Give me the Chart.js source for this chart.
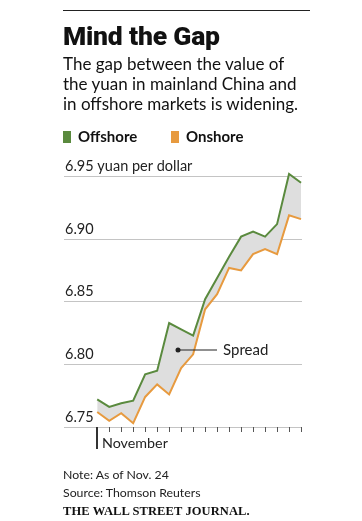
<!DOCTYPE html>
<html>
<head>
<meta charset="utf-8">
<script src="https://cdn.jsdelivr.net/npm/chart.js@4"></script>
<style>
  body { margin: 0; background: #fff; }
  #wrap { position: relative; width: 362px; height: 521px; overflow: hidden; font-family: Lato, sans-serif; color: #111; }
  #chart { position: absolute; left: 0; top: 0; }
  .rule { position: absolute; left: 63px; width: 247px; top: 10px; border-top: 1px solid #222; }
  .title { position: absolute; left: 63px; top: 20px; font-family: Roboto, sans-serif; font-weight: 900; font-size: 26.5px; letter-spacing: -0.2px; }
  .sub { position: absolute; left: 63px; top: 54px; font-size: 17px; line-height: 20px; }
  .leg { position: absolute; top: 127px; font-weight: bold; font-size: 15px; }
  .leg i { display: inline-block; width: 8px; height: 12px; vertical-align: -1px; margin-right: 7px; }
  .note { position: absolute; left: 63px; top: 466px; font-size: 12.3px; line-height: 18px; color: #222; }
  .wsj { position: absolute; left: 63px; top: 504px; font-family: "Liberation Serif", serif; font-weight: bold; font-size: 12.5px; letter-spacing: 0.1px; }
</style>
</head>
<body>
<div id="wrap">
  <canvas id="chart" width="362" height="521"></canvas>
  <div class="rule"></div>
  <div class="title">Mind the Gap</div>
  <div class="sub">The gap between the value of<br>the yuan in mainland China and<br>in offshore markets is widening.</div>
  <div class="leg" style="left:63px"><i style="background:#5a8a3e"></i>Offshore</div>
  <div class="leg" style="left:171px"><i style="background:#e79a3f"></i>Onshore</div>
  <div class="note">Note: As of Nov. 24<br>Source: Thomson Reuters</div>
  <div class="wsj">THE WALL STREET JOURNAL.</div>
</div>
<script>
// trading days, Nov 2016
var days = ["Nov 1","Nov 2","Nov 3","Nov 4","Nov 7","Nov 8","Nov 9","Nov 10","Nov 11",
            "Nov 14","Nov 15","Nov 16","Nov 17","Nov 18","Nov 21","Nov 22","Nov 23","Nov 24"];
var offshore = [6.772, 6.766, 6.769, 6.771, 6.792, 6.795, 6.833, 6.828, 6.823,
                6.852, 6.869, 6.886, 6.902, 6.906, 6.902, 6.912, 6.952, 6.945];
var onshore = [6.762, 6.755, 6.761, 6.753, 6.774, 6.784, 6.776, 6.797, 6.808,
               6.844, 6.856, 6.877, 6.875, 6.888, 6.892, 6.888, 6.919, 6.916];
var yTicks = [6.75, 6.80, 6.85, 6.90, 6.95];
var monthLabel = "November";
var spreadLabel = "Spread";

function toPoints(arr){
  var pts = [];
  for(var i = 0; i < arr.length; i++){
    pts.push({x: i, y: arr[i]});
  }
  return pts;
}

// x ticks, November marker and the Spread callout
var extras = {
  id: 'extras',
  afterDatasetsDraw: function(chart){
    var ctx = chart.ctx;
    var xs = chart.scales.x, ys = chart.scales.y;
    var base = ys.getPixelForValue(6.75);
    ctx.save();
    ctx.strokeStyle = '#555';
    ctx.lineWidth = 1;
    for(var i = 1; i < days.length; i++){
      var px = Math.round(xs.getPixelForValue(i)) + 0.5;
      ctx.beginPath();
      ctx.moveTo(px, base);
      ctx.lineTo(px, base + 5);
      ctx.stroke();
    }
    var x0 = Math.round(xs.getPixelForValue(0));
    ctx.strokeStyle = '#333';
    ctx.lineWidth = 2;
    ctx.beginPath();
    ctx.moveTo(x0, base);
    ctx.lineTo(x0, base + 22);
    ctx.stroke();
    ctx.fillStyle = '#222';
    ctx.font = '14.3px Lato';
    ctx.textBaseline = 'middle';
    ctx.textAlign = 'left';
    ctx.fillText(monthLabel, x0 + 5, base + 16);

    // spread callout
    var sx = xs.getPixelForValue(6.74), sy = ys.getPixelForValue(6.8115);
    ctx.beginPath();
    ctx.arc(sx, sy, 2.5, 0, Math.PI * 2);
    ctx.fill();
    ctx.lineWidth = 1.2;
    ctx.strokeStyle = '#222';
    ctx.beginPath();
    ctx.moveTo(sx, sy);
    ctx.lineTo(sx + 39, sy);
    ctx.stroke();
    ctx.font = '15px Lato';
    ctx.fillText(spreadLabel, sx + 45, sy);
    ctx.restore();
  }
};

Chart.defaults.font.family = 'Lato';
Chart.defaults.color = '#222';

var ctx = document.getElementById("chart").getContext('2d');
var chart = new Chart(ctx, {
  type: 'line',
  data: {
    datasets: [{
      label: 'Offshore',
      data: toPoints(offshore),
      borderColor: '#5a8a3e',
      backgroundColor: '#dedede',
      borderWidth: 2,
      pointRadius: 0,
      tension: 0,
      fill: '+1'
    }, {
      label: 'Onshore',
      data: toPoints(onshore),
      borderColor: '#e79a3f',
      borderWidth: 2,
      pointRadius: 0,
      tension: 0,
      fill: false
    }]
  },
  options: {
    responsive: false,
    animation: false,
    devicePixelRatio: 1,
    layout: {
      padding: { left: 62, right: 60, top: 164, bottom: 94 }
    },
    plugins: {
      legend: { display: false },
      tooltip: { enabled: false },
      filler: { drawTime: 'beforeDatasetsDraw' }
    },
    scales: {
      x: {
        type: 'linear',
        min: -2.77,
        max: 17.08,
        display: false
      },
      y: {
        min: 6.75,
        max: 6.96,
        afterBuildTicks: function(scale){
          scale.ticks = yTicks.map(function(v){ return {value: v}; });
        },
        border: { display: false },
        grid: { color: '#c4c4c4', lineWidth: 1, drawTicks: false },
        ticks: {
          mirror: true,
          padding: 1,
          labelOffset: -10,
          font: { size: 14.5 },
          color: '#222',
          callback: function(v){
            var s = Number(v).toFixed(2);
            return v > 6.94 ? s + ' yuan per dollar' : s;
          }
        }
      }
    }
  },
  plugins: [extras]
});
</script>
</body>
</html>
